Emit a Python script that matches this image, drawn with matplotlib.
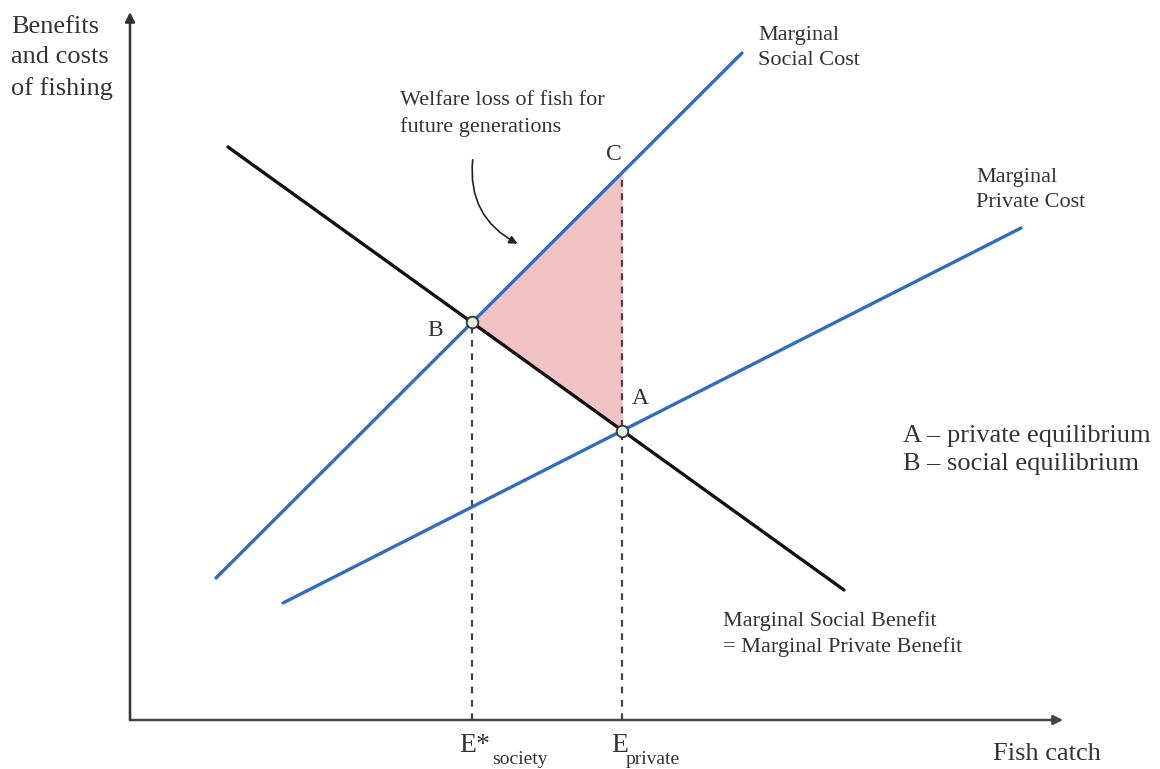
import numpy as np
import matplotlib.pyplot as plt
from matplotlib.patches import FancyArrowPatch

plt.rcParams['font.family'] = ['Liberation Serif', 'DejaVu Serif']

# curve endpoints (fish catch, benefit/cost), origin at the axes corner
msb_x = [98, 714]
msb_y = [573, 130]
msc_x = [86, 612]
msc_y = [142, 667]
mpc_x = [153, 891]
mpc_y = [117, 492]

blue = '#2f6cc4'
text_col = '#333333'


def line_at(xs, ys, x):
    return np.interp(x, xs, ys)


def intersect(x1, y1, x2, y2):
    m1 = (y1[1] - y1[0]) / (x1[1] - x1[0])
    m2 = (y2[1] - y2[0]) / (x2[1] - x2[0])
    b1 = y1[0] - m1 * x1[0]
    b2 = y2[0] - m2 * x2[0]
    x = (b2 - b1) / (m1 - m2)
    return x, m1 * x + b1


# equilibria
bx, by = intersect(msb_x, msb_y, msc_x, msc_y)   # social
ax_, ay = intersect(msb_x, msb_y, mpc_x, mpc_y)  # private
cy = line_at(msc_x, msc_y, ax_)

fig = plt.figure(figsize=(11.6, 7.69), dpi=100)
ax = fig.add_axes([0, 0, 1, 1])
ax.set_xlim(-130, 1030)
ax.set_ylim(-49, 720)
ax.axis('off')

# axes with arrows
ax.annotate('', xy=(933, 0), xytext=(0, 0),
            arrowprops=dict(arrowstyle='-|>', color='#444444', lw=1.8,
                            mutation_scale=14, shrinkA=0, shrinkB=0))
ax.annotate('', xy=(0, 708), xytext=(0, 0),
            arrowprops=dict(arrowstyle='-|>', color='#333333', lw=1.8,
                            mutation_scale=14, shrinkA=0, shrinkB=0))

# welfare loss triangle
ax.fill([bx, ax_, ax_], [by, ay, cy], color='#f2c3c5', zorder=1)

# dashed drop lines
ax.plot([bx, bx], [0, by], ls=(0, (3, 3)), color='#444444', lw=1.6, zorder=2)
ax.plot([ax_, ax_], [0, cy], ls=(0, (3, 3)), color='#444444', lw=1.6, zorder=2)

# curves
ax.plot(msc_x, msc_y, color=blue, lw=2.4, solid_capstyle='round', zorder=3)
ax.plot(mpc_x, mpc_y, color=blue, lw=2.4, solid_capstyle='round', zorder=3)
ax.plot(msb_x, msb_y, color='#111111', lw=2.4, solid_capstyle='round', zorder=4)

# equilibrium points
ax.scatter([bx, ax_], [by, ay], s=70, facecolor='#e4efd9', edgecolor='#333333',
           linewidth=1.3, zorder=5)

# point labels
ax.text(bx - 45, by - 8, 'B', fontsize=17, color=text_col, va='center')
ax.text(ax_ + 9, ay + 32, 'A', fontsize=17, color=text_col, va='center')
ax.text(ax_ - 16, cy + 18, 'C', fontsize=17, color=text_col, va='center')

# axis labels
ax.text(-119, 662, 'Benefits\nand costs\nof fishing', fontsize=19, color=text_col,
        va='center', linespacing=1.5)
ax.text(863, -34, 'Fish catch', fontsize=19, color=text_col, va='center')

# catch levels on x axis
ax.text(bx - 13, -25, 'E*', fontsize=20, color=text_col, va='center')
ax.text(bx + 20, -40, 'society', fontsize=14, color=text_col, va='center')
ax.text(ax_ - 11, -25, 'E', fontsize=20, color=text_col, va='center')
ax.text(ax_ + 3, -40, 'private', fontsize=14, color=text_col, va='center')

# curve labels
ax.text(628, 672, 'Marginal\nSocial Cost', fontsize=16, color=text_col,
        va='center', linespacing=1.45)
ax.text(846, 530, 'Marginal\nPrivate Cost', fontsize=16, color=text_col,
        va='center', linespacing=1.45)
ax.text(593, 86, 'Marginal Social Benefit\n= Marginal Private Benefit', fontsize=16,
        color=text_col, va='center', linespacing=1.45)

# legend text
ax.text(773, 270, 'A – private equilibrium\nB – social equilibrium', fontsize=19,
        color=text_col, va='center', linespacing=1.4)

# welfare loss annotation
ax.text(270, 606, 'Welfare loss of fish for\nfuture generations', fontsize=16,
        color=text_col, va='center', linespacing=1.47)
arrow = FancyArrowPatch((343, 563), (390, 475), connectionstyle='arc3,rad=0.35',
                        arrowstyle='-|>', mutation_scale=12, color='#222222', lw=1.2)
ax.add_patch(arrow)

fig.savefig('out.png', dpi=100, facecolor='white')
